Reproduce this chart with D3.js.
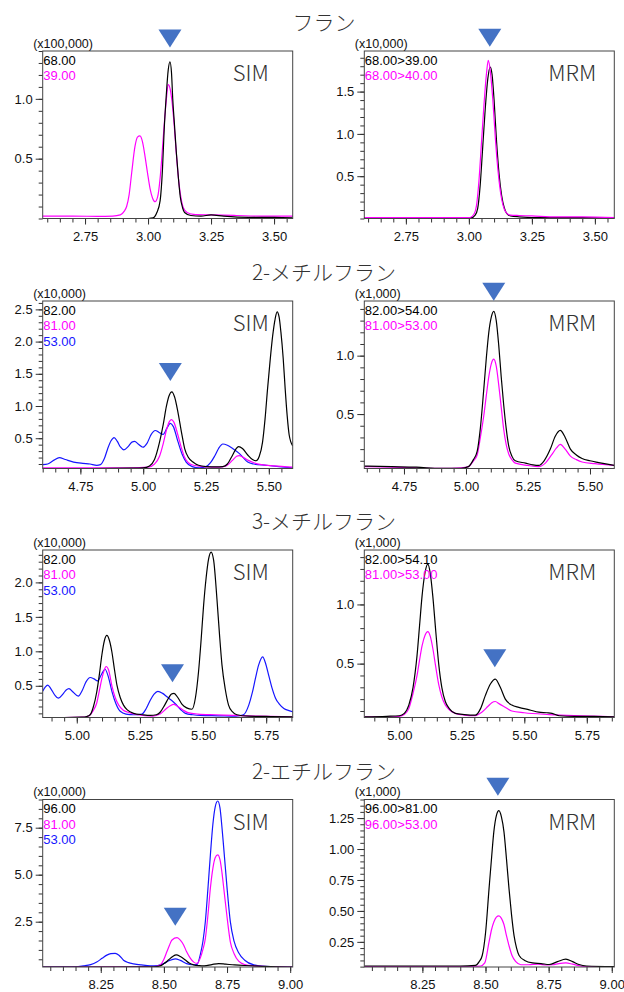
<!DOCTYPE html>
<html>
<head>
<meta charset="utf-8">
<script src="https://cdn.jsdelivr.net/npm/d3@7"></script>
<style>
  body { margin: 0; background: #fff; }
  svg { display: block; }
  .tick text { font-family: "Liberation Sans", Arial, sans-serif; font-size: 13px; fill: #111; }
  .tick line { stroke: #333; }
</style>
</head>
<body>
<div id="chart"></div>
<script>
// ---- data (retention time [min], intensity in plotted units) ----
const compounds = ["フラン", "2-メチルフラン", "3-メチルフラン", "2-エチルフラン"];
const modes = ["SIM", "MRM"];
const unitLabels = ["(x100,000)", "(x10,000)", "(x10,000)", "(x1,000)", "(x10,000)", "(x1,000)", "(x10,000)", "(x1,000)"];

const legendSim = [["68.00", "39.00"], ["82.00", "81.00", "53.00"], ["82.00", "81.00", "53.00"], ["96.00", "81.00", "53.00"]];
const legendMrm = [["68.00>39.00", "68.00>40.00"], ["82.00>54.00", "81.00>53.00"], ["82.00>54.10", "81.00>53.00"], ["96.00>81.00", "96.00>53.00"]];

const xTickRows = [
  [2.75, 3.00, 3.25, 3.50],
  [4.75, 5.00, 5.25, 5.50],
  [5.00, 5.25, 5.50, 5.75],
  [8.25, 8.50, 8.75, 9.00]
];
const xDomains = [
  [[2.582, 3.574], [2.585, 3.577]],
  [[4.600, 5.595], [4.590, 5.598]],
  [[4.865, 5.855], [4.860, 5.860]],
  [[8.020, 9.010], [8.020, 9.010]]
];
const yDomains = [
  [[0, 1.40], [0, 1.98]],
  [[0.03, 2.63], [0.034, 1.468]],
  [[0.04, 2.47], [0.045, 1.46]],
  [[0.09, 9.0], [0.047, 1.40]]
];
const yTickPanels = [
  [[0.5, 1.0], [0.5, 1.0, 1.5]],
  [[0.5, 1.0, 1.5, 2.0, 2.5], [0.5, 1.0]],
  [[0.5, 1.0, 1.5, 2.0], [0.5, 1.0]],
  [[2.5, 5.0, 7.5], [0.25, 0.50, 0.75, 1.00, 1.25]]
];
const yMinorSteps = [[0.1, 0.1], [0.1, 0.1], [0.1, 0.1], [0.5, 0.05]];

// target peak markers: [retention time, tip intensity]
const markers = [
  [[3.087, 1.43], [3.083, 2.03]],
  [[5.108, 1.39], [5.112, 1.47]],
  [[5.379, 0.55], [5.382, 0.47]],
  [[8.545, 2.29], [8.549, 1.43]]
];

// フラン SIM
const furanSim68 = [[3.00,0.0],[3.02,0.005],[3.035,0.05],[3.048,0.15],[3.057,0.40],[3.064,0.74],[3.072,1.02],[3.080,1.24],[3.087,1.31],[3.093,1.22],[3.098,1.0],[3.105,0.78],[3.112,0.56],[3.120,0.35],[3.128,0.18],[3.137,0.09],[3.145,0.05],[3.17,0.025],[3.21,0.02],[3.25,0.03],[3.30,0.02],[3.40,0.01],[3.50,0.01],[3.58,0.005]];
const furanSim39 = [[2.58,0.02],[2.70,0.02],[2.80,0.018],[2.86,0.02],[2.89,0.03],[2.905,0.06],[2.915,0.10],[2.925,0.20],[2.935,0.38],[2.948,0.60],[2.958,0.68],[2.968,0.69],[2.978,0.64],[2.988,0.52],[2.998,0.38],[3.008,0.25],[3.018,0.17],[3.028,0.14],[3.038,0.18],[3.048,0.34],[3.056,0.55],[3.064,0.78],[3.072,0.98],[3.080,1.12],[3.088,1.08],[3.095,0.98],[3.103,0.80],[3.112,0.55],[3.120,0.35],[3.130,0.18],[3.140,0.09],[3.155,0.05],[3.18,0.035],[3.25,0.03],[3.35,0.025],[3.45,0.02],[3.58,0.02]];
// フラン MRM
const furanMrm39 = [[2.58,0.01],[2.80,0.01],[2.95,0.01],[3.01,0.01],[3.025,0.04],[3.035,0.12],[3.045,0.40],[3.055,0.85],[3.065,1.30],[3.075,1.65],[3.085,1.79],[3.092,1.70],[3.100,1.40],[3.110,0.90],[3.120,0.52],[3.130,0.27],[3.140,0.13],[3.150,0.06],[3.165,0.03],[3.20,0.02],[3.30,0.01],[3.45,0.01],[3.58,0.005]];
const furanMrm40 = [[2.58,0.01],[2.80,0.01],[2.95,0.01],[3.005,0.012],[3.02,0.05],[3.03,0.15],[3.04,0.45],[3.05,0.90],[3.06,1.35],[3.07,1.72],[3.077,1.87],[3.085,1.74],[3.095,1.40],[3.105,0.95],[3.115,0.58],[3.125,0.32],[3.135,0.16],[3.148,0.07],[3.165,0.04],[3.20,0.035],[3.25,0.03],[3.35,0.02],[3.45,0.02],[3.58,0.01]];

// 2-メチルフラン SIM
const mf2Sim82 = [[4.60,0.03],[4.80,0.03],[4.95,0.035],[5.00,0.04],[5.025,0.07],[5.045,0.17],[5.065,0.44],[5.08,0.72],[5.092,0.99],[5.103,1.16],[5.114,1.22],[5.125,1.14],[5.138,0.91],[5.152,0.60],[5.165,0.34],[5.18,0.20],[5.198,0.13],[5.22,0.08],[5.25,0.06],[5.29,0.055],[5.317,0.06],[5.335,0.10],[5.356,0.24],[5.37,0.34],[5.38,0.37],[5.395,0.34],[5.416,0.24],[5.435,0.17],[5.449,0.15],[5.462,0.22],[5.475,0.44],[5.485,0.80],[5.495,1.27],[5.505,1.70],[5.515,2.08],[5.525,2.35],[5.533,2.46],[5.541,2.38],[5.548,2.15],[5.557,1.75],[5.565,1.27],[5.573,0.85],[5.581,0.55],[5.595,0.38]];
const mf2Sim81 = [[4.60,0.04],[4.80,0.04],[4.95,0.04],[5.02,0.05],[5.045,0.10],[5.065,0.22],[5.08,0.42],[5.092,0.62],[5.103,0.75],[5.112,0.79],[5.122,0.75],[5.138,0.55],[5.152,0.35],[5.165,0.20],[5.18,0.12],[5.2,0.08],[5.25,0.055],[5.30,0.05],[5.33,0.07],[5.356,0.16],[5.372,0.22],[5.382,0.23],[5.395,0.21],[5.416,0.16],[5.44,0.12],[5.47,0.09],[5.52,0.07],[5.595,0.05]];
const mf2Sim53 = [[4.60,0.09],[4.62,0.10],[4.645,0.16],[4.666,0.20],[4.69,0.17],[4.723,0.13],[4.76,0.11],[4.788,0.10],[4.815,0.08],[4.83,0.09],[4.845,0.18],[4.858,0.33],[4.872,0.46],[4.884,0.51],[4.897,0.45],[4.91,0.36],[4.923,0.32],[4.94,0.37],[4.955,0.44],[4.966,0.45],[4.98,0.41],[4.999,0.36],[5.015,0.42],[5.032,0.56],[5.048,0.62],[5.063,0.59],[5.079,0.56],[5.095,0.66],[5.108,0.73],[5.12,0.68],[5.138,0.45],[5.155,0.25],[5.171,0.13],[5.195,0.06],[5.224,0.04],[5.25,0.06],[5.268,0.12],[5.284,0.22],[5.3,0.34],[5.317,0.41],[5.335,0.39],[5.356,0.34],[5.383,0.26],[5.40,0.19],[5.416,0.13],[5.44,0.1],[5.489,0.08],[5.54,0.06],[5.595,0.04]];
// 2-メチルフラン MRM
const mf2Mrm54 = [[4.59,0.055],[4.70,0.05],[4.80,0.045],[4.90,0.035],[4.98,0.035],[5.01,0.05],[5.03,0.11],[5.045,0.18],[5.058,0.38],[5.072,0.72],[5.082,0.98],[5.092,1.20],[5.102,1.33],[5.112,1.38],[5.122,1.30],[5.132,1.09],[5.142,0.82],[5.152,0.58],[5.162,0.38],[5.172,0.23],[5.185,0.14],[5.199,0.10],[5.24,0.08],[5.27,0.065],[5.293,0.06],[5.315,0.10],[5.34,0.20],[5.36,0.31],[5.38,0.36],[5.40,0.30],[5.421,0.20],[5.445,0.15],[5.468,0.12],[5.50,0.10],[5.535,0.085],[5.598,0.06]];
const mf2Mrm53 = [[4.59,0.05],[4.70,0.045],[4.80,0.04],[4.90,0.035],[4.98,0.04],[5.01,0.05],[5.03,0.10],[5.045,0.15],[5.058,0.30],[5.072,0.49],[5.082,0.66],[5.092,0.82],[5.102,0.93],[5.112,0.97],[5.122,0.91],[5.132,0.75],[5.142,0.56],[5.152,0.37],[5.162,0.24],[5.172,0.16],[5.185,0.11],[5.199,0.08],[5.25,0.06],[5.293,0.05],[5.32,0.08],[5.345,0.15],[5.365,0.21],[5.38,0.24],[5.40,0.20],[5.421,0.14],[5.445,0.11],[5.468,0.09],[5.52,0.075],[5.598,0.06]];

// 3-メチルフラン SIM
const mf3Sim82 = [[4.865,0.04],[4.95,0.04],[5.02,0.045],[5.04,0.055],[5.053,0.08],[5.066,0.2],[5.079,0.41],[5.09,0.68],[5.099,0.94],[5.109,1.15],[5.119,1.23],[5.129,1.16],[5.139,0.99],[5.149,0.74],[5.159,0.51],[5.172,0.33],[5.185,0.22],[5.2,0.15],[5.225,0.1],[5.26,0.08],[5.291,0.07],[5.315,0.08],[5.331,0.12],[5.348,0.22],[5.363,0.32],[5.375,0.38],[5.385,0.39],[5.40,0.33],[5.417,0.23],[5.435,0.18],[5.456,0.16],[5.47,0.33],[5.482,0.70],[5.492,1.15],[5.502,1.66],[5.512,2.06],[5.522,2.34],[5.532,2.44],[5.542,2.32],[5.555,1.76],[5.565,1.25],[5.575,0.80],[5.588,0.45],[5.601,0.22],[5.617,0.12],[5.634,0.08],[5.68,0.06],[5.75,0.055],[5.855,0.05]];
const mf3Sim81 = [[4.865,0.04],[4.95,0.04],[5.03,0.045],[5.05,0.07],[5.065,0.14],[5.079,0.25],[5.09,0.44],[5.099,0.6],[5.108,0.72],[5.116,0.78],[5.126,0.73],[5.139,0.5],[5.152,0.33],[5.166,0.22],[5.183,0.15],[5.2,0.12],[5.24,0.08],[5.30,0.06],[5.33,0.09],[5.355,0.17],[5.37,0.21],[5.383,0.23],[5.40,0.2],[5.42,0.15],[5.44,0.11],[5.48,0.09],[5.55,0.08],[5.62,0.07],[5.72,0.06],[5.855,0.05]];
const mf3Sim53 = [[4.865,0.42],[4.875,0.48],[4.885,0.51],[4.897,0.46],[4.912,0.37],[4.927,0.32],[4.945,0.38],[4.958,0.44],[4.969,0.46],[4.985,0.41],[5.006,0.35],[5.02,0.42],[5.037,0.56],[5.053,0.62],[5.068,0.60],[5.082,0.57],[5.097,0.66],[5.112,0.74],[5.125,0.63],[5.139,0.42],[5.155,0.24],[5.172,0.13],[5.195,0.09],[5.225,0.08],[5.258,0.09],[5.275,0.17],[5.291,0.29],[5.306,0.38],[5.321,0.42],[5.34,0.39],[5.357,0.34],[5.375,0.29],[5.39,0.24],[5.41,0.16],[5.43,0.1],[5.46,0.08],[5.489,0.07],[5.56,0.065],[5.63,0.06],[5.66,0.08],[5.681,0.22],[5.695,0.40],[5.707,0.60],[5.72,0.80],[5.736,0.92],[5.748,0.82],[5.76,0.65],[5.773,0.47],[5.787,0.32],[5.803,0.23],[5.82,0.17],[5.84,0.14],[5.857,0.12]];
// 3-メチルフラン MRM
const mf3Mrm54 = [[4.86,0.05],[4.95,0.055],[5.00,0.06],[5.02,0.08],[5.038,0.15],[5.055,0.30],[5.071,0.57],[5.081,0.82],[5.091,1.07],[5.103,1.27],[5.114,1.34],[5.124,1.26],[5.134,1.07],[5.146,0.77],[5.158,0.49],[5.17,0.30],[5.184,0.18],[5.2,0.12],[5.224,0.08],[5.26,0.07],[5.304,0.065],[5.325,0.12],[5.344,0.23],[5.365,0.33],[5.384,0.37],[5.404,0.30],[5.424,0.2],[5.45,0.15],[5.478,0.13],[5.52,0.11],[5.558,0.09],[5.59,0.085],[5.611,0.08],[5.64,0.06],[5.7,0.055],[5.78,0.055],[5.86,0.05]];
const mf3Mrm53 = [[4.86,0.05],[4.95,0.05],[5.00,0.055],[5.02,0.07],[5.038,0.12],[5.055,0.25],[5.071,0.40],[5.081,0.53],[5.091,0.65],[5.103,0.74],[5.114,0.77],[5.124,0.73],[5.134,0.63],[5.146,0.47],[5.158,0.32],[5.17,0.22],[5.184,0.15],[5.2,0.11],[5.224,0.08],[5.26,0.065],[5.30,0.06],[5.33,0.09],[5.355,0.14],[5.37,0.17],[5.384,0.18],[5.40,0.16],[5.425,0.13],[5.45,0.1],[5.5,0.085],[5.6,0.07],[5.7,0.06],[5.86,0.05]];

// 2-エチルフラン SIM
const ef2Sim96 = [[8.02,0.09],[8.3,0.09],[8.46,0.1],[8.485,0.15],[8.50,0.27],[8.518,0.46],[8.535,0.65],[8.549,0.73],[8.565,0.65],[8.585,0.46],[8.60,0.30],[8.618,0.20],[8.64,0.16],[8.66,0.15],[8.69,0.22],[8.717,0.27],[8.745,0.24],[8.78,0.2],[8.82,0.17],[8.856,0.15],[8.9,0.12],[8.95,0.1],[9.01,0.09]];
const ef2Sim81 = [[8.02,0.09],[8.3,0.1],[8.46,0.11],[8.485,0.2],[8.50,0.5],[8.512,0.91],[8.522,1.25],[8.532,1.53],[8.552,1.65],[8.565,1.52],[8.578,1.26],[8.59,0.9],[8.605,0.55],[8.618,0.35],[8.631,0.28],[8.645,0.6],[8.655,1.05],[8.664,1.6],[8.674,2.8],[8.684,4.28],[8.694,5.35],[8.703,5.9],[8.713,6.05],[8.722,5.8],[8.73,5.1],[8.737,4.28],[8.75,2.75],[8.763,1.43],[8.778,0.8],[8.796,0.4],[8.82,0.22],[8.856,0.15],[8.92,0.11],[9.01,0.09]];
const ef2Sim53 = [[8.02,0.09],[8.15,0.1],[8.181,0.15],[8.21,0.22],[8.234,0.36],[8.255,0.55],[8.274,0.72],[8.29,0.8],[8.307,0.82],[8.322,0.72],[8.34,0.45],[8.36,0.32],[8.38,0.26],[8.41,0.2],[8.446,0.15],[8.475,0.17],[8.499,0.27],[8.52,0.42],[8.545,0.52],[8.565,0.44],[8.59,0.27],[8.61,0.21],[8.631,0.22],[8.645,0.8],[8.655,1.5],[8.664,2.5],[8.674,4.2],[8.684,6.05],[8.694,7.7],[8.703,8.6],[8.713,8.92],[8.722,8.55],[8.73,7.5],[8.737,6.4],[8.75,4.3],[8.763,2.5],[8.778,1.45],[8.796,0.85],[8.82,0.45],[8.856,0.2],[8.9,0.12],[9.01,0.09]];
// 2-エチルフラン MRM
const ef2Mrm81 = [[8.02,0.055],[8.2,0.055],[8.4,0.055],[8.46,0.06],[8.475,0.09],[8.487,0.14],[8.50,0.32],[8.514,0.68],[8.524,0.93],[8.533,1.14],[8.543,1.27],[8.553,1.31],[8.563,1.26],[8.573,1.14],[8.583,0.92],[8.593,0.68],[8.603,0.47],[8.613,0.30],[8.623,0.20],[8.633,0.14],[8.655,0.1],[8.686,0.08],[8.72,0.075],[8.752,0.067],[8.785,0.09],[8.818,0.11],[8.845,0.09],[8.87,0.067],[8.9,0.055],[9.01,0.05]];
const ef2Mrm53 = [[8.02,0.05],[8.2,0.05],[8.4,0.05],[8.48,0.055],[8.497,0.08],[8.514,0.25],[8.524,0.35],[8.533,0.41],[8.543,0.45],[8.553,0.46],[8.563,0.44],[8.573,0.39],[8.583,0.30],[8.593,0.22],[8.605,0.14],[8.62,0.09],[8.64,0.065],[8.67,0.065],[8.71,0.07],[8.74,0.063],[8.765,0.065],[8.79,0.075],[8.818,0.08],[8.845,0.07],[8.87,0.058],[8.9,0.05],[9.01,0.05]];

// series per panel, drawn in this order (bottom first)
const panelSeries = [
  [[furanSim39, furanSim68], [furanMrm39, furanMrm40]],
  [[mf2Sim53, mf2Sim81, mf2Sim82], [mf2Mrm53, mf2Mrm54]],
  [[mf3Sim53, mf3Sim81, mf3Sim82], [mf3Mrm53, mf3Mrm54]],
  [[ef2Sim53, ef2Sim81, ef2Sim96], [ef2Mrm53, ef2Mrm81]]
];
const panelColors = [
  [["#ff00ff", "#000"], ["#000", "#ff00ff"]],
  [["#1515ff", "#ff00ff", "#000"], ["#ff00ff", "#000"]],
  [["#1515ff", "#ff00ff", "#000"], ["#ff00ff", "#000"]],
  [["#1515ff", "#ff00ff", "#000"], ["#ff00ff", "#000"]]
];
const legendColors = ["#000", "#ff00ff", "#1515ff"];

// ---- layout ----
const width = 624;
const height = 992;
const colLeft = [42.7, 364.3];
const rowTop = [51, 301, 550, 799.5];
const plotW = 250;
const plotH = 167.5;

const svg = d3.select("#chart")
  .append("svg")
  .attr("width", width)
  .attr("height", height)
  .style("background", "#fff");

const defs = svg.append("defs");

function minorTicks(domain, step) {
  const start = Math.ceil(domain[0] / step - 1e-6);
  const end = Math.floor(domain[1] / step + 1e-6);
  return d3.range(start, end + 1).map(i => +(i * step).toFixed(4));
}

compounds.forEach((name, r) => {
  const top = rowTop[r];

  svg.append("text")
    .attr("x", 324)
    .attr("y", top - 21)
    .attr("text-anchor", "middle")
    .style("font-family", '"Noto Sans CJK JP", sans-serif')
    .style("font-weight", 300)
    .style("font-size", "21px")
    .style("fill", "#333")
    .text(name);

  modes.forEach((mode, c) => {
    const left = colLeft[c];
    const xDom = xDomains[r][c];
    const yDom = yDomains[r][c];

    const x = d3.scaleLinear().domain(xDom).range([left, left + plotW]);
    const y = d3.scaleLinear().domain(yDom).range([top + plotH, top]);

    const g = svg.append("g");

    // x axis: minor then major
    g.append("g")
      .attr("transform", `translate(0,${top + plotH})`)
      .call(d3.axisBottom(x).tickValues(minorTicks(xDom, 0.05)).tickSize(4).tickFormat(""))
      .call(s => s.select(".domain").remove());
    g.append("g")
      .attr("transform", `translate(0,${top + plotH})`)
      .call(d3.axisBottom(x).tickValues(xTickRows[r]).tickSize(6).tickPadding(7).tickFormat(d3.format(".2f")))
      .call(s => s.select(".domain").remove());

    // y axis
    const yFmt = yTickPanels[r][c][0] === 0.25 ? d3.format(".2f") : d3.format(".1f");
    g.append("g")
      .attr("transform", `translate(${left},0)`)
      .call(d3.axisLeft(y).tickValues(minorTicks(yDom, yMinorSteps[r][c])).tickSize(4).tickFormat(""))
      .call(s => s.select(".domain").remove());
    g.append("g")
      .attr("transform", `translate(${left},0)`)
      .call(d3.axisLeft(y).tickValues(yTickPanels[r][c]).tickSize(7).tickPadding(3).tickFormat(yFmt))
      .call(s => s.select(".domain").remove());

    // traces
    const clipId = `clip-${r}-${c}`;
    defs.append("clipPath").attr("id", clipId)
      .append("rect")
      .attr("x", left).attr("y", top)
      .attr("width", plotW).attr("height", plotH);

    const line = d3.line()
      .x(d => x(d[0]))
      .y(d => y(d[1]))
      .curve(d3.curveMonotoneX);

    g.append("g")
      .attr("clip-path", `url(#${clipId})`)
      .selectAll("path")
      .data(panelSeries[r][c])
      .join("path")
      .attr("d", line)
      .attr("fill", "none")
      .attr("stroke", (d, i) => panelColors[r][c][i])
      .attr("stroke-width", 1.2);

    // frame
    g.append("rect")
      .attr("x", left).attr("y", top)
      .attr("width", plotW).attr("height", plotH)
      .attr("fill", "none")
      .attr("stroke", "#444")
      .attr("stroke-width", 1);

    // unit label
    g.append("text")
      .attr("x", left - 9.5)
      .attr("y", top - 3.5)
      .style("font-family", '"Liberation Sans", Arial, sans-serif')
      .style("font-size", "12.5px")
      .style("fill", "#111")
      .text(unitLabels[r * 2 + c]);

    // legend
    const labels = c === 0 ? legendSim[r] : legendMrm[r];
    g.selectAll(".legend")
      .data(labels)
      .join("text")
      .attr("class", "legend")
      .attr("x", left + 0.5)
      .attr("y", (d, i) => top + 13.5 + i * 15.5)
      .style("font-family", '"Liberation Sans", Arial, sans-serif')
      .style("font-size", "13px")
      .style("fill", (d, i) => legendColors[i])
      .text(d => d);

    // mode label
    g.append("text")
      .attr("x", left + 208)
      .attr("y", top + 30)
      .attr("text-anchor", "middle")
      .style("font-family", '"Noto Sans CJK JP", sans-serif')
      .style("font-weight", 300)
      .style("font-size", "22px")
      .style("fill", "#333")
      .text(mode);

    // target marker
    const [rt, tip] = markers[r][c];
    const cx = x(rt);
    const ty = y(tip);
    g.append("path")
      .attr("d", `M${cx - 11.5},${ty - 18}L${cx + 11.5},${ty - 18}L${cx},${ty}Z`)
      .attr("fill", "#4472c4");
  });
});
</script>
</body>
</html>
